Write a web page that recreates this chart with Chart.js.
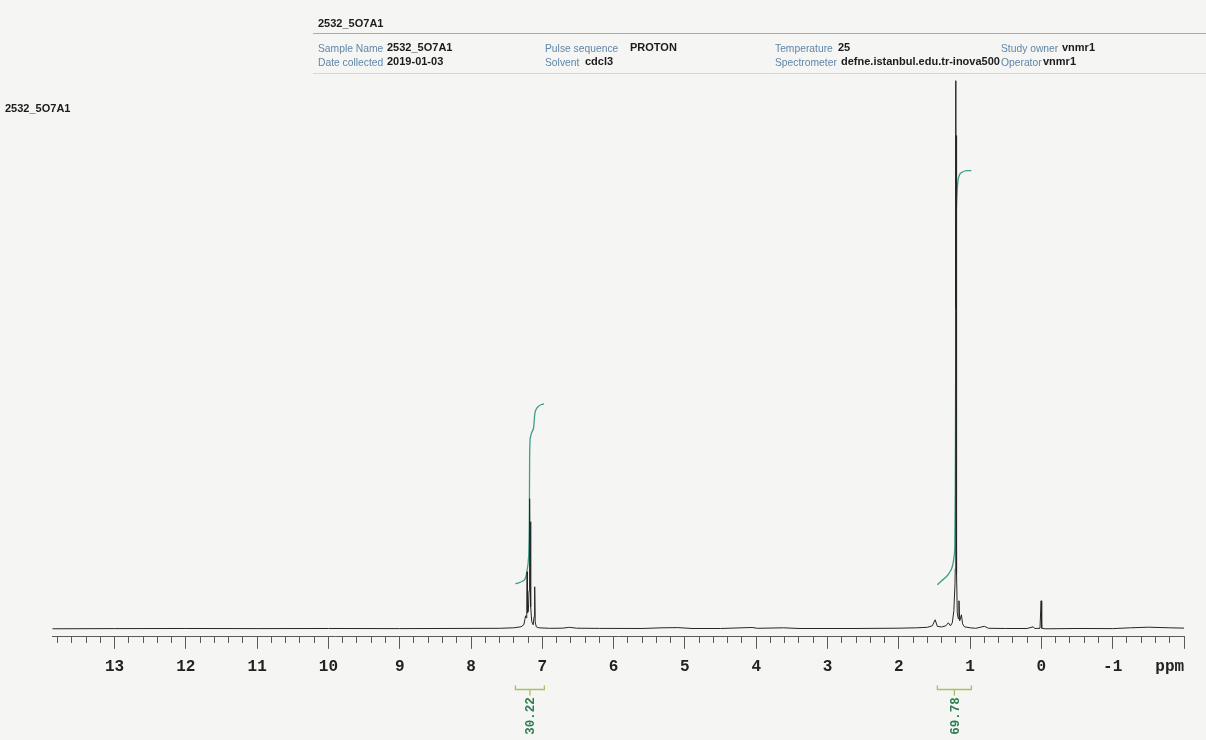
<!DOCTYPE html>
<html><head><meta charset="utf-8">
<script src="https://cdn.jsdelivr.net/npm/chart.js@4.4.1/dist/chart.umd.min.js"></script>
<style>
html,body{margin:0;padding:0;background:#f5f5f4;width:1206px;height:740px;overflow:hidden;font-family:"Liberation Sans",Arial,sans-serif;}
#wrap{position:relative;width:1206px;height:740px;}
canvas{position:absolute;left:0;top:0;}
.t{position:absolute;white-space:nowrap;line-height:13px;}
.lab{font-size:10.3px;color:#5f86a8;}
.val{font-size:11px;font-weight:bold;color:#1b1b1b;}
.hl{position:absolute;height:0;}
</style></head>
<body><div id="wrap">
<canvas id="c" width="1206" height="740"></canvas>
<div class="t val" style="left:318px;top:17px;">2532_5O7A1</div>
<div class="hl" style="left:313px;top:33px;width:893px;border-top:1.5px solid #93b2c9;"></div>
<div class="hl" style="left:313px;top:73px;width:893px;border-top:1px solid #d6d6d6;"></div>
<div class="t lab" style="left:318px;top:42px;">Sample Name</div>
<div class="t val" style="left:387px;top:41px;">2532_5O7A1</div>
<div class="t lab" style="left:318px;top:56px;">Date collected</div>
<div class="t val" style="left:387px;top:55px;">2019-01-03</div>
<div class="t lab" style="left:545px;top:42px;">Pulse sequence</div>
<div class="t val" style="left:630px;top:41px;">PROTON</div>
<div class="t lab" style="left:545px;top:56px;">Solvent</div>
<div class="t val" style="left:585px;top:55px;">cdcl3</div>
<div class="t lab" style="left:775px;top:42px;">Temperature</div>
<div class="t val" style="left:838px;top:41px;">25</div>
<div class="t lab" style="left:775px;top:56px;">Spectrometer</div>
<div class="t val" style="left:841px;top:55px;">defne.istanbul.edu.tr-inova500</div>
<div class="t lab" style="left:1001px;top:42px;">Study owner</div>
<div class="t val" style="left:1062px;top:41px;">vnmr1</div>
<div class="t lab" style="left:1001px;top:56px;">Operator</div>
<div class="t val" style="left:1043px;top:55px;">vnmr1</div>
<div class="t val" style="left:5px;top:102px;">2532_5O7A1</div>
</div>
<script>
// ---- spectrum (chemical shift in ppm, intensity in arbitrary units) ----
const specPpm = [13.9,13.0,12.0,11.0,10.0,9.0,8.0,7.6,7.40,7.30,7.26,7.245,7.235,7.225,7.218,7.213,7.208,7.196,7.186,7.178,7.172,7.166,7.160,7.148,7.128,7.116,7.107,7.100,7.085,7.05,6.9,6.72,6.62,6.52,6.2,5.6,5.32,5.1,4.9,4.5,4.06,3.98,3.62,3.4,2.6,2.0,1.75,1.60,1.53,1.49,1.46,1.40,1.34,1.305,1.275,1.25,1.228,1.212,1.208,1.202,1.199,1.196,1.190,1.180,1.166,1.156,1.146,1.122,1.106,1.08,1.0,0.92,0.80,0.74,0.5,0.2,0.115,0.095,0.02,0.004,-0.004,-0.05,-0.5,-1.0,-1.25,-1.5,-1.8,-2.1];
const specInt = [0,0.2,0.3,0.2,0.3,0.2,0.4,0.5,1,2,4,9,13,11,18,57,16,17,38,130,58,107,22,7,4,12,42,7,2,1,0.5,0.6,1.5,0.6,0.4,0.3,1,1.2,0.3,0.3,1.3,0.5,1,0.3,0.3,0.6,1,1.5,3,9,2.5,1.8,3,6,3,6,18,45,60,548,320,493,55,16,10,28,8,14,5,2,1,0.5,2.5,0.5,0.3,0.3,2,0.3,0.5,28,0.6,0,0.3,0.2,1,1.6,1,0.5];

// ---- integral curves ----
const intAroPpm = [7.377,7.33,7.28,7.25,7.23,7.215,7.20,7.19,7.182,7.178,7.172,7.165,7.15,7.125,7.115,7.105,7.09,7.06,7.02,6.975];
const intAroVal = [45,46,47.5,49,52,58,65,75,110,170,189,192,196,200,207,215,219,222,224,225];
const intAliPpm = [1.459,1.43,1.40,1.35,1.30,1.26,1.235,1.215,1.205,1.200,1.196,1.19,1.18,1.165,1.14,1.10,1.05,0.982];
const intAliVal = [44,46,48,51,55,60,67,80,200,340,410,425,440,450,455,457,458,458];

// ---- integral regions ----
const regionStart = [7.377, 1.459];
const regionEnd   = [6.971, 0.982];
const regionValue = ['30.22', '69.78'];

// ---- axis ----
const axisMin = -2, axisMax = 13.87, tickStep = 0.2;
const unitLabel = 'ppm', unitLabelAt = -1.8;

const pts = (xs, ys) => xs.map((x, i) => ({x: x, y: ys[i]}));
const isInt = v => Math.abs(v - Math.round(v)) < 1e-6;

const integralPlugin = {
  id: 'integrals',
  afterDraw(chart) {
    const ctx = chart.ctx, xs = chart.scales.x;
    for (let i = 0; i < regionStart.length; i++) {
      const x1 = xs.getPixelForValue(regionStart[i]);
      const x2 = xs.getPixelForValue(regionEnd[i]);
      const xm = (x1 + x2) / 2, yb = 689.5;
      ctx.save();
      ctx.strokeStyle = '#a9c25a'; ctx.lineWidth = 1.3;
      ctx.beginPath();
      ctx.moveTo(x1, yb - 4); ctx.lineTo(x1, yb); ctx.lineTo(x2, yb); ctx.lineTo(x2, yb - 4);
      ctx.moveTo(xm, yb); ctx.lineTo(xm, yb + 6);
      ctx.stroke();
      ctx.translate(xm + 1, 716);
      ctx.rotate(-Math.PI / 2);
      ctx.fillStyle = '#2f7d52';
      ctx.font = 'bold 12.5px "Liberation Mono", monospace';
      ctx.textAlign = 'center'; ctx.textBaseline = 'middle';
      ctx.fillText(regionValue[i], 0, 0);
      ctx.restore();
    }
  }
};

new Chart(document.getElementById('c'), {
  type: 'line',
  data: {
    datasets: [
      {data: pts(specPpm, specInt), borderColor: '#262626', borderWidth: 1, pointRadius: 0, tension: 0},
      {data: pts(intAroPpm, intAroVal), borderColor: '#3f9c86', borderWidth: 1.3, pointRadius: 0, tension: 0.3},
      {data: pts(intAliPpm, intAliVal), borderColor: '#3f9c86', borderWidth: 1.3, pointRadius: 0, tension: 0.3}
    ]
  },
  options: {
    responsive: false, animation: false, devicePixelRatio: 1,
    layout: {padding: {left: 52.5, right: 22, top: 75, bottom: 54}},
    plugins: {legend: {display: false}, tooltip: {enabled: false}},
    scales: {
      x: {
        type: 'linear', reverse: true, min: axisMin, max: axisMax, bounds: 'data',
        border: {display: true, color: '#5a5a5a', width: 1},
        grid: {
          drawOnChartArea: false, drawTicks: true, tickLength: 12, tickColor: '#5a5a5a', tickWidth: 1,
          tickBorderDash: (c) => (c.tick && isInt(c.tick.value)) ? [] : [6, 100]
        },
        ticks: {
          stepSize: tickStep, autoSkip: false, includeBounds: false, maxRotation: 0, minRotation: 0,
          padding: 9, color: '#222',
          font: {family: '"Liberation Mono", "Courier New", monospace', size: 16, weight: 'bold'},
          callback: (v) => {
            if (Math.abs(v - unitLabelAt) < 1e-6) return unitLabel;
            if (isInt(v) && Math.round(v) > axisMin) return String(Math.round(v));
            return '';
          }
        }
      },
      y: {display: false, min: -8, max: 553.7}
    }
  },
  plugins: [integralPlugin]
});
</script>
</body></html>
